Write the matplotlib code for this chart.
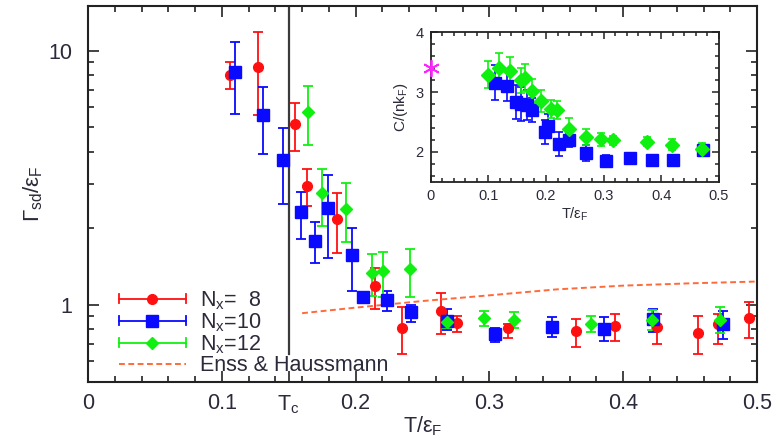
import numpy as np
import matplotlib
matplotlib.use("Agg")
import matplotlib.pyplot as plt
from matplotlib.lines import Line2D
from matplotlib.legend_handler import HandlerBase
from matplotlib.ticker import FixedLocator, MultipleLocator, NullFormatter, FixedFormatter

plt.rcParams['font.family'] = ['Liberation Sans', 'DejaVu Sans']
plt.rcParams['mathtext.fontset'] = 'custom'
plt.rcParams['mathtext.rm'] = 'Liberation Sans'
plt.rcParams['mathtext.it'] = 'Liberation Sans:italic'

# ---- main panel data: T/eF, Gamma_sd/eF, lower, upper ----
t8 = [0.1064, 0.1267, 0.155, 0.1637, 0.186, 0.2144, 0.2346, 0.2635, 0.276, 0.314,
      0.365, 0.3936, 0.425, 0.4558, 0.4708, 0.494]
g8 = [8.05, 8.65, 5.16, 2.94, 2.18, 1.19, 0.812, 0.947, 0.849, 0.812,
      0.79, 0.827, 0.82, 0.776, 0.842, 0.889]
lo8 = [7.08, 5.6, 4.04, 2.45, 1.60, 0.964, 0.641, 0.769, 0.783, 0.742,
       0.683, 0.721, 0.702, 0.641, 0.702, 0.742]
hi8 = [9.05, 11.8, 6.24, 3.43, 2.76, 1.40, 0.982, 1.115, 0.905, 0.842,
       0.881, 0.922, 0.922, 0.905, 0.922, 1.028]

t10 = [0.110, 0.1305, 0.1457, 0.159, 0.170, 0.179, 0.197, 0.2057, 0.2234, 0.2414,
       0.268, 0.304, 0.347, 0.386, 0.422, 0.4745]
g10 = [8.27, 5.6, 3.72, 2.32, 1.79, 2.41, 1.57, 1.07, 1.046, 0.939,
       0.865, 0.769, 0.82, 0.804, 0.881, 0.842]
lo10 = [5.65, 3.93, 2.5, 1.82, 1.46, 1.53, 1.135, 1.035, 0.947, 0.857,
        0.797, 0.715, 0.748, 0.721, 0.783, 0.735]
hi10 = [10.85, 7.21, 4.97, 2.79, 2.12, 3.25, 2.01, 1.10, 1.135, 1.0,
        0.964, 0.812, 0.897, 0.897, 0.964, 0.947]

t12 = [0.1642, 0.1747, 0.1927, 0.212, 0.2206, 0.2406, 0.268, 0.296, 0.3186, 0.3756,
       0.4213, 0.472]
g12 = [5.75, 2.76, 2.39, 1.336, 1.36, 1.38, 0.857, 0.889, 0.873, 0.842,
       0.873, 0.873]
lo12 = [4.27, 2.05, 1.77, 1.085, 1.078, 1.078, 0.812, 0.827, 0.812, 0.783,
        0.797, 0.776]
hi12 = [7.28, 3.43, 3.02, 1.59, 1.62, 1.66, 0.889, 0.947, 0.939, 0.905,
        0.956, 0.982]

# Enss & Haussmann curve
t_eh = [0.16, 0.2, 0.25, 0.3, 0.35, 0.4, 0.45, 0.5]
g_eh = [0.927, 0.975, 1.035, 1.09, 1.15, 1.19, 1.215, 1.235]

Tc = 0.15

# ---- inset data: T/eF, C/(n kF), error ----
it10 = [0.1115, 0.1318, 0.148, 0.156, 0.1665, 0.175, 0.198, 0.204, 0.2225, 0.2404,
        0.2693, 0.3035, 0.3457, 0.3843, 0.4197, 0.4717]
c10 = [3.16, 3.10, 2.83, 2.80, 2.78, 2.70, 2.33, 2.44, 2.13, 2.20,
       1.98, 1.85, 1.90, 1.87, 1.855, 2.03]
e10 = [0.30, 0.25, 0.28, 0.28, 0.25, 0.20, 0.20, 0.20, 0.20, 0.12,
       0.13, 0.10, 0.05, 0.03, 0.02, 0.03]

it12 = [0.0985, 0.119, 0.137, 0.157, 0.1636, 0.176, 0.1915, 0.2085, 0.2196, 0.24,
        0.2685, 0.2948, 0.3167, 0.3746, 0.419, 0.47]
c12 = [3.29, 3.40, 3.35, 3.20, 3.24, 3.02, 2.85, 2.71, 2.70, 2.39,
       2.25, 2.21, 2.19, 2.17, 2.12, 2.05]
e12 = [0.23, 0.26, 0.24, 0.21, 0.23, 0.20, 0.18, 0.15, 0.15, 0.17,
       0.13, 0.11, 0.08, 0.08, 0.09, 0.09]

t_star = [0.0]
c_star = [3.40]

RED, BLUE, GREEN = '#ff1010', '#0a0aff', '#10f010'
TXT = '#2a2a3a'


class CapBarHandler(HandlerBase):
    """gnuplot-like key entry: horizontal bar with end caps and a marker"""
    def create_artists(self, legend, orig, xdescent, ydescent, width, height, fontsize, trans):
        y = height / 2 - ydescent
        x0, x1 = -xdescent, width - xdescent
        c = orig.get_color()
        h = 0.28 * height
        arts = [Line2D([x0, x1], [y, y], color=c, lw=1.3),
                Line2D([x0, x0], [y - h, y + h], color=c, lw=1.3),
                Line2D([x1, x1], [y - h, y + h], color=c, lw=1.3),
                Line2D([(x0 + x1) / 2], [y], marker=orig.get_marker(),
                       ms=orig.get_markersize(), color=c, ls='none')]
        for a in arts:
            a.set_transform(trans)
        return arts


def errs(v, lo, hi):
    v = np.array(v)
    return [v - np.array(lo), np.array(hi) - v]


fig = plt.figure(figsize=(7.81, 4.45), dpi=100)
ax = fig.add_axes([0.1127, 0.1416, 0.8566, 0.845])

ebkw = dict(ls='none', capsize=3.5, elinewidth=1.3, capthick=1.3)
ax.errorbar(t8, g8, yerr=errs(g8, lo8, hi8), marker='o', ms=7, color=RED, **ebkw)
ax.errorbar(t10, g10, yerr=errs(g10, lo10, hi10), marker='s', ms=8, color=BLUE, **ebkw)
ax.errorbar(t12, g12, yerr=errs(g12, lo12, hi12), marker='D', ms=6.5, color=GREEN, **ebkw)
eh_line, = ax.plot(t_eh, g_eh, color='#ff6a3a', lw=1.4, ls=(0, (3, 1.8)))
ax.axvline(Tc, ymin=0.075, color='#3a3a3a', lw=1.6)

ax.set_yscale('log')
ax.set_xlim(0, 0.5)
ax.set_ylim(0.497, 15.0)
ax.xaxis.set_major_locator(FixedLocator([0, 0.1, Tc, 0.2, 0.3, 0.4, 0.5]))
ax.xaxis.set_major_formatter(FixedFormatter(['0', '0.1', r'T$_\mathrm{c}$', '0.2', '0.3', '0.4', '0.5']))
ax.xaxis.set_minor_locator(MultipleLocator(0.02))
ax.yaxis.set_major_locator(FixedLocator([1, 10]))
ax.yaxis.set_major_formatter(FixedFormatter(['1', '10']))
ax.yaxis.set_minor_locator(FixedLocator([0.6, 0.7, 0.8, 0.9, 2, 3, 4, 5, 6, 7, 8, 9]))
ax.yaxis.set_minor_formatter(NullFormatter())
ax.tick_params(which='both', direction='in', top=True, right=True, width=1.2, colors='#222')
ax.tick_params(which='major', length=8, labelsize=15.5, labelcolor=TXT, pad=8)
ax.tick_params(which='minor', length=4)
ax.tick_params(axis='y', which='major', pad=11)
for s in ax.spines.values():
    s.set_linewidth(1.5)
    s.set_color('#222')

ax.set_xlabel(r'T/ε$_\mathrm{F}$', fontsize=15.5, color=TXT, labelpad=-1)
ax.set_ylabel(r'Γ$_\mathrm{sd}$/ε$_\mathrm{F}$', fontsize=16, color=TXT, labelpad=3)

h8 = Line2D([], [], color=RED, marker='o', ms=7)
h10 = Line2D([], [], color=BLUE, marker='s', ms=8)
h12 = Line2D([], [], color=GREEN, marker='D', ms=6.5)
leg = ax.legend([h8, h10, h12, eh_line],
                [r'N$_\mathrm{x}$=  8', r'N$_\mathrm{x}$=10', r'N$_\mathrm{x}$=12', 'Enss & Haussmann'],
                handler_map={h8: CapBarHandler(), h10: CapBarHandler(), h12: CapBarHandler()},
                loc='lower left', bbox_to_anchor=(0.03, -0.013), frameon=False, fontsize=15.5,
                handlelength=3.1, handletextpad=0.65, labelspacing=-0.03, borderaxespad=0.1)
for t in leg.get_texts():
    t.set_color(TXT)

# ---- inset ----
ins = fig.add_axes([0.5515, 0.5917, 0.3691, 0.3357])
iekw = dict(ls='none', capsize=3, elinewidth=1.2, capthick=1.2)
ins.errorbar(it10, c10, yerr=e10, marker='s', ms=8, color=BLUE, **iekw)
ins.errorbar(it12, c12, yerr=e12, marker='D', ms=7, color=GREEN, **iekw)
ins.plot(t_star, c_star, ls='none', marker=(6, 2, 0), ms=12, mew=1.3,
         color='#ff22ff', clip_on=False, zorder=5)
ins.set_xlim(0, 0.5)
ins.set_ylim(1.5, 4.0)
ins.xaxis.set_major_locator(FixedLocator([0, 0.1, 0.2, 0.3, 0.4, 0.5]))
ins.xaxis.set_major_formatter(FixedFormatter(['0', '0.1', '0.2', '0.3', '0.4', '0.5']))
ins.xaxis.set_minor_locator(MultipleLocator(0.02))
ins.yaxis.set_major_locator(FixedLocator([2, 3, 4]))
ins.yaxis.set_minor_locator(MultipleLocator(0.2))
ins.tick_params(which='both', direction='in', top=True, right=True, width=1.1, colors='#222')
ins.tick_params(which='major', length=5, labelsize=10.5, labelcolor=TXT, pad=5)
ins.tick_params(which='minor', length=3)
for s in ins.spines.values():
    s.set_linewidth(1.3)
    s.set_color('#222')
ins.set_xlabel(r'T/ε$_\mathrm{F}$', fontsize=10.5, color=TXT, labelpad=2)
ins.set_ylabel(r'C/(nk$_\mathrm{F}$)', fontsize=11, color=TXT, labelpad=4)

fig.savefig('out.png', dpi=100)
